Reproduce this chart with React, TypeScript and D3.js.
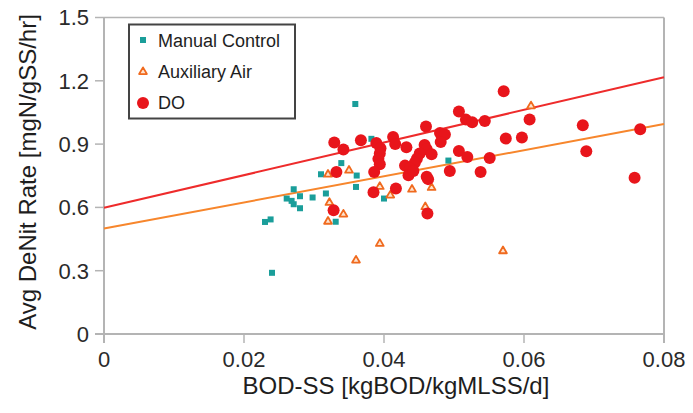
import React from 'react';
import * as d3 from 'd3';

const xTicks = [0, 0.02, 0.04, 0.06, 0.08];
const xTickLabels = ['0', '0.02', '0.04', '0.06', '0.08'];
const yTicks = [0, 0.3, 0.6, 0.9, 1.2, 1.5];
const yTickLabels = ['0', '0.3', '0.6', '0.9', '1.2', '1.5'];

const seriesNames = ['Manual Control', 'Auxiliary Air', 'DO'];

const manualControl: [number, number][] = [
  [0.0359, 1.09], [0.0382, 0.925], [0.0339, 0.81], [0.031, 0.757], [0.0361, 0.751],
  [0.036, 0.697], [0.0271, 0.686], [0.0261, 0.642], [0.0268, 0.631], [0.028, 0.653],
  [0.0271, 0.615], [0.028, 0.596], [0.0298, 0.647], [0.0317, 0.666], [0.04, 0.642],
  [0.0331, 0.532], [0.023, 0.531], [0.0238, 0.543], [0.024, 0.29], [0.0492, 0.822],
];

const auxiliaryAir: [number, number][] = [
  [0.032, 0.76], [0.035, 0.779], [0.0394, 0.702], [0.0409, 0.661], [0.044, 0.689],
  [0.0322, 0.626], [0.0342, 0.571], [0.032, 0.537], [0.0394, 0.432], [0.036, 0.353],
  [0.0459, 0.606], [0.061, 1.084], [0.0468, 0.697], [0.057, 0.397],
];

const dissolvedOxygen: [number, number][] = [
  [0.0571, 1.151], [0.0507, 1.055], [0.0517, 1.016], [0.0526, 1.003], [0.0544, 1.009],
  [0.0608, 1.017], [0.046, 0.983], [0.048, 0.953], [0.0487, 0.945], [0.0481, 0.91],
  [0.0413, 0.934], [0.0416, 0.9], [0.0432, 0.885], [0.0458, 0.896], [0.0461, 0.876],
  [0.0451, 0.855], [0.0468, 0.852], [0.0447, 0.831], [0.0444, 0.812], [0.043, 0.798],
  [0.0437, 0.784], [0.0435, 0.752], [0.0442, 0.773], [0.0507, 0.867], [0.0519, 0.839],
  [0.0551, 0.834], [0.0574, 0.926], [0.0597, 0.931], [0.0684, 0.989], [0.0689, 0.866],
  [0.0766, 0.97], [0.0758, 0.741], [0.0494, 0.773], [0.0538, 0.768], [0.0463, 0.734],
  [0.0417, 0.69], [0.0462, 0.571], [0.0329, 0.908], [0.0342, 0.874], [0.0367, 0.918],
  [0.0389, 0.905], [0.0395, 0.88], [0.0394, 0.855], [0.0392, 0.83], [0.0394, 0.805],
  [0.0386, 0.768], [0.0332, 0.768], [0.0385, 0.672], [0.0328, 0.587], [0.0461, 0.745],
];

// fitted trend lines, end points
const doTrend: [number, number][] = [[0, 0.598], [0.08, 1.217]];
const auxTrend: [number, number][] = [[0, 0.5], [0.08, 0.995]];

const TEAL = '#1a9e9a';
const ORANGE = '#f06a1e';
const RED = '#e8151b';
const AXIS = '#b4b4b4';
const FONT = '"Liberation Sans", Arial, sans-serif';

const App = () => {
  const width = 693;
  const height = 413;

  const x = d3.scaleLinear().domain([0, 0.08]).range([104, 664]);
  const y = d3.scaleLinear().domain([0, 1.5]).range([334, 17.5]);

  const line = d3.line<[number, number]>()
    .x((d) => x(d[0]))
    .y((d) => y(d[1]));

  const tri = d3.symbol().type(d3.symbolTriangle).size(26)();

  const square = (cx: number, cy: number, key: React.Key) => (
    <rect key={key} x={cx - 3} y={cy - 3} width={6} height={6} fill={TEAL} />
  );
  const triangle = (cx: number, cy: number, key: React.Key) => (
    <path key={key} d={tri || ''} transform={`translate(${cx},${cy + 0.8})`}
      fill="#fde3cf" stroke={ORANGE} strokeWidth={1.8} strokeLinejoin="round" />
  );
  const dot = (cx: number, cy: number, key: React.Key) => (
    <circle key={key} cx={cx} cy={cy} r={6} fill={RED} />
  );

  const [x0, x1] = x.range();
  const [y0, y1] = y.range();

  return (
    <svg width={width} height={height} style={{ position: 'absolute', left: 0, top: 0, background: '#fff' }}
      fontFamily={FONT}>
      {/* frame */}
      <line x1={x0} x2={x1} y1={y1} y2={y1} stroke={AXIS} strokeWidth={1.5} />
      <line x1={x1} x2={x1} y1={y1} y2={y0 + 9} stroke={AXIS} strokeWidth={2} />
      <line x1={x0} x2={x0} y1={y1} y2={y0 + 9} stroke={AXIS} strokeWidth={2} />
      <line x1={x0 - 9} x2={x1} y1={y0} y2={y0} stroke={AXIS} strokeWidth={2} />

      {yTicks.map((t, i) => (
        <g key={`y${i}`}>
          <line x1={x0 - 9} x2={x0} y1={y(t)} y2={y(t)} stroke={AXIS} strokeWidth={1.5} />
          <text x={x0 - 15} y={y(t)} dy="0.36em" textAnchor="end" fontSize={22} fill="#2a2a2a">
            {yTickLabels[i]}
          </text>
        </g>
      ))}
      {xTicks.map((t, i) => (
        <g key={`x${i}`}>
          <line x1={x(t)} x2={x(t)} y1={y0} y2={y0 + 9} stroke={AXIS} strokeWidth={1.5} />
          <text x={x(t)} y={367} textAnchor="middle" fontSize={22} fill="#2a2a2a">
            {xTickLabels[i]}
          </text>
        </g>
      ))}

      <text x={396} y={394} textAnchor="middle" fontSize={24} fill="#1e1e1e">
        BOD-SS [kgBOD/kgMLSS/d]
      </text>
      <text transform="translate(36,172) rotate(-90)" textAnchor="middle" fontSize={24} fill="#1e1e1e">
        Avg DeNit Rate [mgN/gSS/hr]
      </text>

      {/* trend lines */}
      <path d={line(auxTrend) || ''} stroke="#f7862c" strokeWidth={2} fill="none" />
      <path d={line(doTrend) || ''} stroke="#ee2b2b" strokeWidth={2} fill="none" />

      {manualControl.map((d, i) => square(x(d[0]), y(d[1]), `m${i}`))}
      {auxiliaryAir.map((d, i) => triangle(x(d[0]), y(d[1]), `a${i}`))}
      {dissolvedOxygen.map((d, i) => dot(x(d[0]), y(d[1]), `d${i}`))}

      {/* legend */}
      <g>
        <rect x={129} y={24.5} width={166} height={94} fill="#fff" stroke="#444" strokeWidth={2} />
        {square(143, 40, 'lm')}
        {triangle(143, 71, 'la')}
        {dot(143, 103, 'ld')}
        {seriesNames.map((n, i) => (
          <text key={n} x={158} y={47 + i * 31} fontSize={18} fill="#1e1e1e">{n}</text>
        ))}
      </g>
    </svg>
  );
};

export default App;
